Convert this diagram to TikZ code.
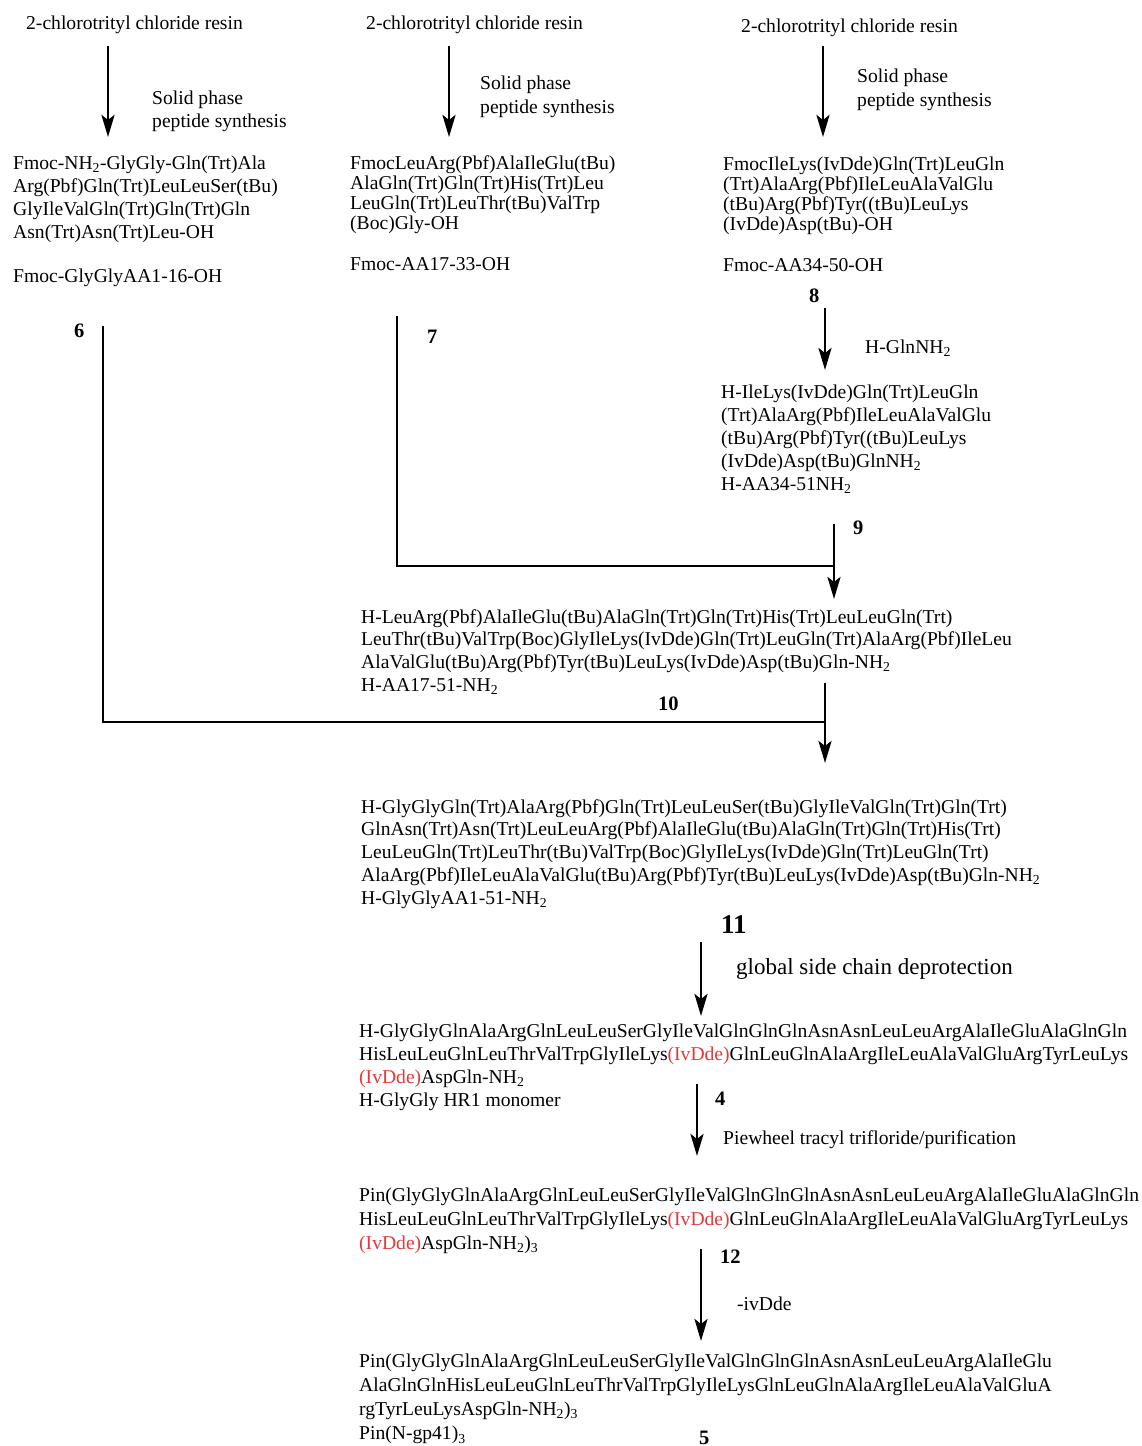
\documentclass[tikz,border=0pt]{standalone}
\usepackage{fontspec}
\setmainfont{Liberation Serif}
\usetikzlibrary{arrows.meta}
\definecolor{ivred}{RGB}{226,58,58}
\newcommand\fsz{\fontsize{19.6pt}{23pt}\selectfont}
\newcommand\sub[1]{\textsubscript{#1}}
\newcommand\iv{\textcolor{ivred}{(IvDde)}}
\newcommand\blk[5]{%
  \foreach \t [count=\i] in {#5} {\node[txt] (#1-\i) at (#2,{#3+(\i-1)*#4}) {\t};}}
\tikzset{
  txt/.style={anchor=base west, inner sep=0pt, font=\fsz},
  num/.style={anchor=base west, inner sep=0pt, font=\fontsize{20.5pt}{23pt}\selectfont\bfseries},
  arr/.style={line width=2.8pt, -{Stealth[length=22pt,width=13pt,inset=5pt]}},
  conn/.style={line width=2.2pt}
}
\begin{document}
\begin{tikzpicture}[x=1pt,y=-1pt]
\clip (0,0) rectangle (1141,1446);
\fill[white] (0,0) rectangle (1141,1446);
% ---------- column 1 ----------
\node[txt] (r1) at (26,29) {2-chlorotrityl chloride resin};
\coordinate (a1s) at (108,46); \coordinate (a1e) at (108,137);
\draw[arr] (a1s) -- (a1e);
\node[txt] (s1a) at (152,104) {Solid phase};
\node[txt] (s1b) at (152,127) {peptide synthesis};
\blk{b1}{13}{169}{23}{{Fmoc-NH\sub{2}-GlyGly-Gln(Trt)Ala},{Arg(Pbf)Gln(Trt)LeuLeuSer(tBu)},{GlyIleValGln(Trt)Gln(Trt)Gln},{Asn(Trt)Asn(Trt)Leu-OH}}
\node[txt] (c1) at (13,282) {Fmoc-GlyGlyAA1-16-OH};
\node[num] (n6) at (74,337) {6};
% ---------- column 2 ----------
\node[txt] (r2) at (366,29) {2-chlorotrityl chloride resin};
\coordinate (a2s) at (449,46); \coordinate (a2e) at (449,137);
\draw[arr] (a2s) -- (a2e);
\node[txt] (s2a) at (480,89) {Solid phase};
\node[txt] (s2b) at (480,113) {peptide synthesis};
\blk{b2}{350}{169}{20}{{FmocLeuArg(Pbf)AlaIleGlu(tBu)},{AlaGln(Trt)Gln(Trt)His(Trt)Leu},{LeuGln(Trt)LeuThr(tBu)ValTrp},{(Boc)Gly-OH}}
\node[txt] (c2) at (350,270) {Fmoc-AA17-33-OH};
\node[num] (n7) at (427,343) {7};
% ---------- column 3 ----------
\node[txt] (r3) at (741,32) {2-chlorotrityl chloride resin};
\coordinate (a3s) at (823,46); \coordinate (a3e) at (823,137);
\draw[arr] (a3s) -- (a3e);
\node[txt] (s3a) at (857,82) {Solid phase};
\node[txt] (s3b) at (857,106) {peptide synthesis};
\blk{b3}{723}{170}{20}{{FmocIleLys(IvDde)Gln(Trt)LeuGln},{(Trt)AlaArg(Pbf)IleLeuAlaValGlu},{(tBu)Arg(Pbf)Tyr((tBu)LeuLys},{(IvDde)Asp(tBu)-OH}}
\node[txt] (c3) at (723,271) {Fmoc-AA34-50-OH};
\node[num] (n8) at (809,302) {8};
\coordinate (a8s) at (825,308); \coordinate (a8e) at (825,370);
\draw[arr] (a8s) -- (a8e);
\node[txt] (g8) at (865,353) {H-GlnNH\sub{2}};
\blk{b8}{721}{398}{23}{{H-IleLys(IvDde)Gln(Trt)LeuGln},{(Trt)AlaArg(Pbf)IleLeuAlaValGlu},{(tBu)Arg(Pbf)Tyr((tBu)LeuLys},{(IvDde)Asp(tBu)GlnNH\sub{2}},{H-AA34-51NH\sub{2}}}
\node[num] (n9) at (853,534) {9};
% ---------- coupling 7 + 8 ----------
\coordinate (l7a) at (397,316); \coordinate (l7b) at (397,566); \coordinate (l7c) at (834,566);
\draw[conn] (l7a) -- (l7b) -- (l7c);
\coordinate (a9s) at (834,524); \coordinate (a9e) at (834,599);
\draw[arr] (a9s) -- (a9e);
\blk{b9}{361}{623}{22.7}{{H-LeuArg(Pbf)AlaIleGlu(tBu)AlaGln(Trt)Gln(Trt)His(Trt)LeuLeuGln(Trt)},{LeuThr(tBu)ValTrp(Boc)GlyIleLys(IvDde)Gln(Trt)LeuGln(Trt)AlaArg(Pbf)IleLeu},{AlaValGlu(tBu)Arg(Pbf)Tyr(tBu)LeuLys(IvDde)Asp(tBu)Gln-NH\sub{2}},{H-AA17-51-NH\sub{2}}}
\node[num] (n10) at (658,710) {10};
% ---------- coupling 6 + 10 ----------
\coordinate (l6a) at (103,326); \coordinate (l6b) at (103,722); \coordinate (l6c) at (825,722);
\draw[conn] (l6a) -- (l6b) -- (l6c);
\coordinate (a10s) at (825,683); \coordinate (a10e) at (825,763);
\draw[arr] (a10s) -- (a10e);
\blk{b11}{361}{813}{22.8}{{H-GlyGlyGln(Trt)AlaArg(Pbf)Gln(Trt)LeuLeuSer(tBu)GlyIleValGln(Trt)Gln(Trt)},{GlnAsn(Trt)Asn(Trt)LeuLeuArg(Pbf)AlaIleGlu(tBu)AlaGln(Trt)Gln(Trt)His(Trt)},{LeuLeuGln(Trt)LeuThr(tBu)ValTrp(Boc)GlyIleLys(IvDde)Gln(Trt)LeuGln(Trt)},{AlaArg(Pbf)IleLeuAlaValGlu(tBu)Arg(Pbf)Tyr(tBu)LeuLys(IvDde)Asp(tBu)Gln-NH\sub{2}},{H-GlyGlyAA1-51-NH\sub{2}}}
\node[num, font=\fontsize{27pt}{30pt}\selectfont\bfseries] (n11) at (721,933) {11};
\coordinate (a11s) at (701,942); \coordinate (a11e) at (701,1016);
\draw[arr] (a11s) -- (a11e);
\node[txt, font=\fontsize{23pt}{26pt}\selectfont] (gd) at (736,974) {global side chain deprotection};
% ---------- deprotected ----------
\blk{b4}{359}{1037}{23.3}{{H-GlyGlyGlnAlaArgGlnLeuLeuSerGlyIleValGlnGlnGlnAsnAsnLeuLeuArgAlaIleGluAlaGlnGln},{HisLeuLeuGlnLeuThrValTrpGlyIleLys\iv GlnLeuGlnAlaArgIleLeuAlaValGluArgTyrLeuLys},{\iv AspGln-NH\sub{2}},{H-GlyGly HR1 monomer}}
\node[num] (n4) at (715,1105) {4};
\coordinate (a4s) at (697,1084); \coordinate (a4e) at (697,1156);
\draw[arr] (a4s) -- (a4e);
\node[txt] (pw) at (723,1144) {Piewheel tracyl trifloride/purification};
% ---------- Pin ----------
\blk{b12}{359}{1201}{24}{{Pin(GlyGlyGlnAlaArgGlnLeuLeuSerGlyIleValGlnGlnGlnAsnAsnLeuLeuArgAlaIleGluAlaGlnGln},{HisLeuLeuGlnLeuThrValTrpGlyIleLys\iv GlnLeuGlnAlaArgIleLeuAlaValGluArgTyrLeuLys},{\iv AspGln-NH\sub{2})\sub{3}}}
\node[num] (n12) at (720,1263) {12};
\coordinate (a12s) at (701,1249); \coordinate (a12e) at (701,1341);
\draw[arr] (a12s) -- (a12e);
\node[txt] (iv) at (737,1310) {-ivDde};
% ---------- final ----------
\blk{b5}{359}{1367}{24.3}{{Pin(GlyGlyGlnAlaArgGlnLeuLeuSerGlyIleValGlnGlnGlnAsnAsnLeuLeuArgAlaIleGlu},{AlaGlnGlnHisLeuLeuGlnLeuThrValTrpGlyIleLysGlnLeuGlnAlaArgIleLeuAlaValGluA},{rgTyrLeuLysAspGln-NH\sub{2})\sub{3}},{Pin(N-gp41)\sub{3}}}
\node[num] (n5) at (699,1444) {5};
\end{tikzpicture}
\end{document}
